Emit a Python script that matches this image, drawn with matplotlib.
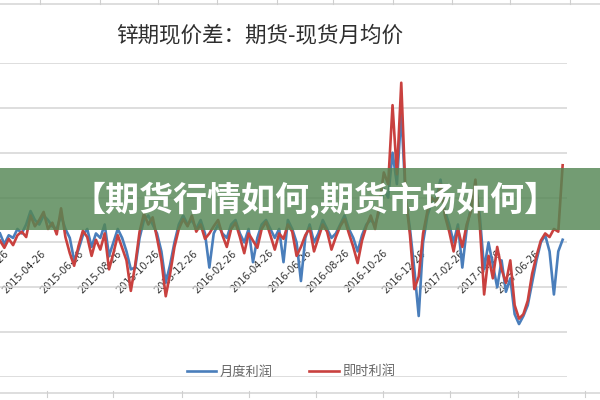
import matplotlib
matplotlib.use('Agg')
import matplotlib.pyplot as plt
import matplotlib.dates as mdates
from matplotlib.patches import Rectangle
import numpy as np
import pandas as pd

plt.rcParams['font.family'] = ['Noto Sans CJK SC', 'DejaVu Sans']

TITLE = '锌期现价差：期货-现货月均价'
BANNER = '【期货行情如何,期货市场如何】'
SERIES_NAMES = ['月度利润', '即时利润']
COLORS = {'月度利润': '#4a7ebb', '即时利润': '#c9413f'}

start_date = '2015-02-20'
n_weeks = 130

# 月度利润 (blue), weekly
monthly = [
    100, -20, 80, 50, 150, 100, 200, 350, 250, 200,
    300, 250, 180, 150, 300, 150, 50, -200, -80, 80,
    150, -50, 100, 50, 200, -150, 0, 150, 50, -100,
    -300, -280, 50, 250, 300, 200, 100, -100, -450, -250,
    0, 200, 300, 200, 250, 150, 250, 100, -280, 100,
    200, 100, 50, 200, 250, 100, 0, 150, -220, 50,
    200, 250, 150, 50, 150, -220, 250, 150, 0, -430,
    50, 200, 0, 100, 250, 150, 50, 100, 200, 300,
    150, 50, -100, 80, 200, 250, 200, 350, 600, 500,
    1000, 650, 1450, 500, 150, -300, -820, 0, 300, 450,
    500, 700, 350, 200, 0, 200, -280, 150, 400, 650,
    300, -300, 0, -250, -500, -200, -550, -400, -800, -910,
    -820, -700, -450, -200, 0, 80, -100, -580, -100, 30,
]

# 即时利润 (red), weekly
spot = [
    20, -60, 40, -30, 80, 120, 60, 300, 180, 250,
    340, 150, 220, 90, 380, 60, -120, -260, -40, 130,
    60, -150, 30, -80, 100, -300, -120, 80, -60, -200,
    -540, -250, 120, 320, 200, 280, 50, -200, -600, -350,
    -50, 150, 260, 180, 300, 120, 200, 40, 100, 180,
    250, 80, -50, 150, 220, 60, -120, 100, 20, -60,
    150, 230, 80, -80, 100, 40, 200, 120, -150, -50,
    80, 160, -100, 50, 200, 120, -80, 60, 180, 260,
    100, -50, -230, 20, 180, 300, 150, 420, 780, 650,
    1530, 760, 1780, 520, 80, -520, -380, 100, 350, 500,
    450, 650, 300, 120, -100, 150, -50, 200, 350, 700,
    200, -580, -150, -400, -50, -300, -450, -200, -700, -850,
    -800, -650, -350, -150, 20, 100, 60, 150, 120, 860,
]

tick_dates = ['2015-02-26', '2015-04-26', '2015-06-26', '2015-08-26', '2015-10-26',
              '2015-12-26', '2016-02-26', '2016-04-26', '2016-06-26', '2016-08-26',
              '2016-10-26', '2016-12-26', '2017-02-26', '2017-04-26', '2017-06-26']
y_ticks = [-1500, -1000, -500, 0, 500, 1000, 1500, 2000]


def main():
    dates = pd.date_range(start_date, periods=n_weeks, freq='7D')
    fig = plt.figure(figsize=(6, 4), dpi=100)
    ax = fig.add_axes([0.0, 0.0575, 0.945, 0.785])

    ax.plot(dates, monthly, color=COLORS['月度利润'], lw=1.9, label='月度利润', zorder=3)
    ax.plot(dates, spot, color=COLORS['即时利润'], lw=1.9, label='即时利润', zorder=4)

    ax.set_xlim(pd.Timestamp(start_date), pd.Timestamp(start_date) + pd.Timedelta(days=7 * n_weeks))
    ax.set_ylim(-1500, 2000)
    ax.set_yticks(y_ticks)
    ax.yaxis.grid(True, color='#d4d4d4', lw=1.1)
    ax.tick_params(axis='y', left=False, labelleft=False)
    for s in ['left', 'right', 'top']:
        ax.spines[s].set_visible(False)
    ax.spines['bottom'].set_position(('data', 0))
    ax.spines['bottom'].set_color('none')
    ax.set_xticks(pd.to_datetime(tick_dates))
    ax.xaxis.set_major_formatter(mdates.DateFormatter('%Y-%m-%d'))
    ax.tick_params(axis='x', length=0, pad=4, labelsize=7, labelcolor='#333333')
    plt.setp(ax.get_xticklabels(), rotation=45, ha='right', va='top',
             rotation_mode='anchor', family='DejaVu Sans')
    ax.set_axisbelow(True)

    ax.legend(ncol=2, loc='center', bbox_to_anchor=(0.485, 0.07), bbox_transform=fig.transFigure,
              frameon=False, fontsize=9.5, handlelength=2.2, handletextpad=0.25,
              columnspacing=2.8, labelcolor='#666666')

    fig.text(0.433, 1 - 35 / 400, TITLE, ha='center', va='center', fontsize=15.5, color='#2e2e2e')

    # spreadsheet grid remnants at top and bottom
    fig.add_artist(plt.Line2D([0, 1], [1 - 4 / 400] * 2, color='#d8d8d8', lw=1.2))
    for xp in [40, 100, 158, 217, 277, 333, 393, 452, 510, 570]:
        fig.add_artist(plt.Line2D([xp / 600] * 2, [1, 1 - 4 / 400], color='#cfcfcf', lw=0.8))
    fig.add_artist(plt.Line2D([0, 1], [1 - 393 / 400] * 2, color='#d8d8d8', lw=1.2))
    for xp in [47, 113, 182, 249, 316, 383, 450, 518, 585]:
        fig.add_artist(plt.Line2D([xp / 600] * 2, [1 - 391 / 400, 1 - 397 / 400], color='#cfcfcf', lw=0.8))

    # green banner overlay
    fig.add_artist(Rectangle((0, 1 - 230 / 400), 1, 62 / 400, transform=fig.transFigure,
                             facecolor=(0.33, 0.53, 0.33), alpha=0.82, edgecolor='none', zorder=10))
    fig.text(0.525, 1 - 200 / 400, BANNER, ha='center', va='center', fontsize=24.5,
             fontweight='bold', color='white', zorder=11)

    fig.savefig('out.png', dpi=100)


if __name__ == '__main__':
    main()
